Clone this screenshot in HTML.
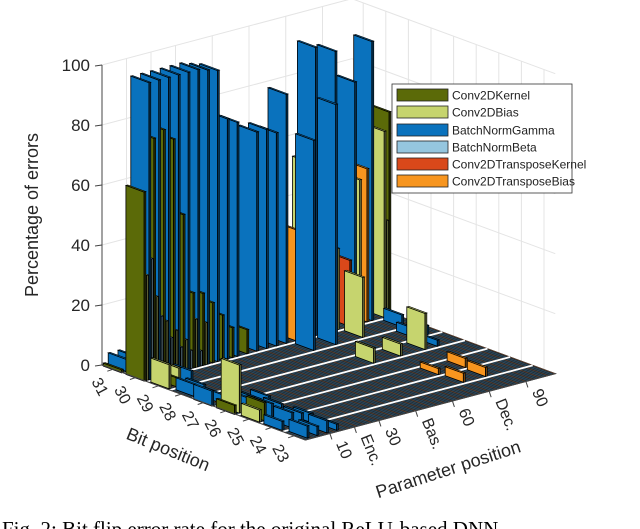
<!DOCTYPE html>
<html><head><meta charset="utf-8"><style>
html,body{margin:0;padding:0;background:#fff;width:640px;height:529px;overflow:hidden}
svg{display:block;font-family:"Liberation Sans",sans-serif}
</style></head><body>
<svg id="chart" width="640" height="529" viewBox="0 0 640 529" xmlns="http://www.w3.org/2000/svg">
<g id="walls"></g>
<g id="floor"></g>
<g id="bars"></g>
<g id="axes"></g>
<g id="legend"></g>
<text x="2" y="536" font-family="Liberation Serif, serif" font-size="21" fill="#000">Fig. 2: Bit flip error rate for the original ReLU-based DNN</text>
</svg>
<script>
const seriesNames = ["Conv2DKernel","Conv2DBias","BatchNormGamma","BatchNormBeta","Conv2DTransposeKernel","Conv2DTransposeBias"];
const seriesColors = ["#5b6a08","#c6d46e","#0a72bd","#95c6df","#d9481a","#f7951f"];
const zTicks = [0,20,40,60,80,100];
const bitTicks = [31,30,29,28,27,26,25,24,23];
const paramTickPos = [10,20,30,45,60,75,90];
const paramTickLabels = ["10","Enc.","30","Bas.","60","Dec.","90"];
const paramMax = 102;
// bars: bit, parameter index, value (%), series index
const barBits = [
31,31,31,31,31,
30,30,30,30,30,30,30,30,30,30,30,30,30,30,30,30,30,30,30,30,30,30,30,30,30,30,30,30,30,30,30,30,30,30,30,30,30,30,30,30,30,30,30,30,30,30,30,30,30,30,
30,30,30,30,
29,29,29,29,29,29,29,29,
28,28,28,28,
27,27,27,27,27,27,
26,26,26,26,26,
25,25,25,25,25,25,
24,24,24,24,24,24,
23,23,23,23];
const barParams = [
0,2,6,96,98,
0,1,2,3,4,5,6,7,8,9,10,11,12,13,14,15,16,17,18,19,20,21,22,23,24,25,26,28,30,32,34,36,38,42,46,50,54,58,62,64,68,70,72,74,78,79,84,86,88,91,
93,98,99,100,
1,5,10,60,69,80,96,4,
2,6,92,97,
0,4,66,77,87,92,
0,2,6,10,14,
1,3,6,10,74,85,
1,5,9,13,75,84,
2,6,10,14];
const barValues = [
1,4,4,3,3,
63,35,99,40,80,27,99,20,82,18,99,12,78,14,99,8,52,10,99,6,25,16,99,5,24,14,98,20,97,15,80,10,78,8,73,73,71,83,37,20,58,96,30,20,93,27,22,81,48,51,
93,62,32,68,
8,6,4,70,80,20,4,3,
4,3,3,3,
5,3,5,4,12,2,
3,16,4,3,3,
4,6,5,4,2,3,
3,5,4,3,3,3,
4,3,4,2];
const barSeries = [
0,2,2,2,2,
0,1,2,3,0,1,2,3,0,1,2,3,0,1,2,3,0,1,2,3,0,1,2,3,0,1,2,0,2,0,2,0,2,0,2,2,2,2,5,1,1,2,0,4,2,1,4,2,1,5,
2,1,1,0,
1,1,2,2,2,1,2,0,
2,2,2,2,
2,2,1,1,1,2,
0,1,2,2,2,
1,0,2,2,5,5,
2,2,2,2,5,5,
2,2,2,2];

const NS="http://www.w3.org/2000/svg";
function proj(bi,p,z){return [102+22.6*bi+2.45*p, 365+8.33*bi-0.65*p-3*z];}
function pts(arr){return arr.map(a=>{const q=proj(a[0],a[1],a[2]);return q[0].toFixed(1)+","+q[1].toFixed(1);}).join(" ");}
function mk(tag,attrs,parent){const e=document.createElementNS(NS,tag);for(const k in attrs)e.setAttribute(k,attrs[k]);parent.appendChild(e);return e;}
function shade(hex,f){const n=parseInt(hex.slice(1),16);let r=(n>>16)&255,g=(n>>8)&255,b=n&255;r=Math.round(r*f);g=Math.round(g*f);b=Math.round(b*f);return "rgb("+r+","+g+","+b+")";}
const nb=bitTicks.length;
const walls=document.getElementById('walls');
mk('polygon',{points:pts([[0,0,0],[0,paramMax,0],[0,paramMax,100],[0,0,100]]),fill:"#fff",stroke:"none"},walls);
zTicks.forEach(z=>{
  const l=mk('line',{x1:proj(0,0,z)[0],y1:proj(0,0,z)[1],x2:proj(0,paramMax,z)[0],y2:proj(0,paramMax,z)[1],stroke:"#e4e4e4","stroke-width":1},walls);
  
  
  const r=mk('line',{x1:proj(0,paramMax,z)[0],y1:proj(0,paramMax,z)[1],x2:proj(nb,paramMax,z)[0],y2:proj(nb,paramMax,z)[1],stroke:"#e4e4e4","stroke-width":1},walls);
  
  
});
paramTickPos.forEach(p=>{
  const a=proj(0,p,0),b=proj(0,p,100);
  const l=mk('line',{x1:a[0],y1:a[1],x2:b[0],y2:b[1],stroke:"#e4e4e4"},walls);
  
  
});
bitTicks.forEach((bt,i)=>{
  const a=proj(i+0.5,paramMax,0),b=proj(i+0.5,paramMax,100);
  const l=mk('line',{x1:a[0],y1:a[1],x2:b[0],y2:b[1],stroke:"#e4e4e4"},walls);
  
  
});
const floor=document.getElementById('floor');
const fp=mk('polygon',{points:pts([[0,0,0],[nb,0,0],[nb,paramMax,0],[0,paramMax,0]]),fill:"#222b31",stroke:"#222"},floor);


for(let p=0;p<=paramMax;p+=1){
  const a=proj(0,p,0),b=proj(nb,p,0);
  mk('line',{x1:a[0],y1:a[1],x2:b[0],y2:b[1],stroke:(p%3==0?"#6a4630":"#2e5570"),"stroke-width":0.6},floor);
}
for(let k=1;k<nb;k++){
  const a=proj(k,0,0),b=proj(k,paramMax,0);
  const l=mk('line',{x1:a[0],y1:a[1],x2:b[0],y2:b[1],stroke:"#fff","stroke-width":1.8},floor);
  
  
}
const barsG=document.getElementById('bars');
const idx=barBits.map((b,i)=>i).sort((i,j)=>{const ri=31-barBits[i],rj=31-barBits[j];if(ri!==rj)return ri-rj;return barParams[j]-barParams[i];});
idx.forEach(i=>{
  const r=31-barBits[i],p=barParams[i],h=barValues[i],c=seriesColors[barSeries[i]];
  const b0=r+0.1,b1=r+0.9,p0=p-0.4,p1=p+0.4;
  const g=mk('g',{},barsG);
  
  
  mk('polygon',{points:pts([[b1,p0,0],[b1,p1,0],[b1,p1,h],[b1,p0,h]]),fill:shade(c,0.45),stroke:"#000","stroke-width":0.6},g);
  mk('polygon',{points:pts([[b0,p0,h],[b1,p0,h],[b1,p1,h],[b0,p1,h]]),fill:c,stroke:"#000","stroke-width":0.6},g);
  mk('polygon',{points:pts([[b0,p0,0],[b1,p0,0],[b1,p0,h],[b0,p0,h]]),fill:c,stroke:"#000","stroke-width":0.8},g);
});
const ax=document.getElementById('axes');
const z0=proj(0,0,0),z1=proj(0,0,100);
mk('line',{x1:z0[0],y1:z0[1],x2:z1[0],y2:z1[1],stroke:"#444","stroke-width":1},ax);
zTicks.forEach(z=>{
  const q=proj(0,0,z);
  mk('line',{x1:q[0]-7,y1:q[1]+1,x2:q[0],y2:q[1],stroke:"#444"},ax);
  const t=mk('text',{x:q[0]-12,y:q[1]+6,"text-anchor":"end","font-size":17,fill:"#262626"},ax);
  t.textContent=z;
  
  
});
const ytt=mk('text',{x:0,y:0,transform:"translate(38,215) rotate(-90)","text-anchor":"middle","font-size":18,fill:"#262626"},ax);
ytt.textContent="Percentage of errors";


const ba=proj(0,0,0),bb=proj(nb,0,0);
mk('line',{x1:ba[0],y1:ba[1],x2:bb[0],y2:bb[1],stroke:"#444"},ax);
bitTicks.forEach((bt,i)=>{
  const q=proj(i+0.5,0,0);
  mk('line',{x1:q[0],y1:q[1],x2:q[0]-6,y2:q[1]+2,stroke:"#444"},ax);
  const t=mk('text',{x:0,y:0,transform:"translate("+(q[0]-18).toFixed(1)+","+(q[1]+20).toFixed(1)+") rotate(62)","text-anchor":"middle","font-size":16,fill:"#262626"},ax);
  t.textContent=bt;
  
  
});
const bt=mk('text',{x:0,y:0,transform:"translate(166,455) rotate(22)","text-anchor":"middle","font-size":18,fill:"#262626"},ax);
bt.textContent="Bit position";


const pa=proj(nb,0,0),pb=proj(nb,paramMax,0);
mk('line',{x1:pa[0],y1:pa[1],x2:pb[0],y2:pb[1],stroke:"#444"},ax);
paramTickPos.forEach((p,i)=>{
  const q=proj(nb,p,0);
  mk('line',{x1:q[0],y1:q[1],x2:q[0]+2,y2:q[1]+6,stroke:"#444"},ax);
  const t=mk('text',{x:0,y:0,transform:"translate("+(q[0]+6).toFixed(1)+","+(q[1]+10).toFixed(1)+") rotate(68)","text-anchor":"start","font-size":16,fill:"#262626"},ax);
  t.textContent=paramTickLabels[i];
  
  
});
const pt=mk('text',{x:0,y:0,transform:"translate(450,475) rotate(-18)","text-anchor":"middle","font-size":18,fill:"#262626"},ax);
pt.textContent="Parameter position";


const lg=document.getElementById('legend');
const lb=mk('rect',{x:392,y:84,width:180,height:109,fill:"#fff",stroke:"#333","stroke-width":0.8},lg);


const ly=[95,112,130,147,164,181];
seriesNames.forEach((n,i)=>{
  const g=mk('g',{},lg);
  
  
  mk('rect',{x:397,y:ly[i]-6,width:51,height:12,fill:seriesColors[i],stroke:"#222","stroke-width":0.8},g);
  const t=mk('text',{x:452,y:ly[i]+4.5,"font-size":12,fill:"#222"},g);
  t.textContent=n;
});
</script>
</body></html>
